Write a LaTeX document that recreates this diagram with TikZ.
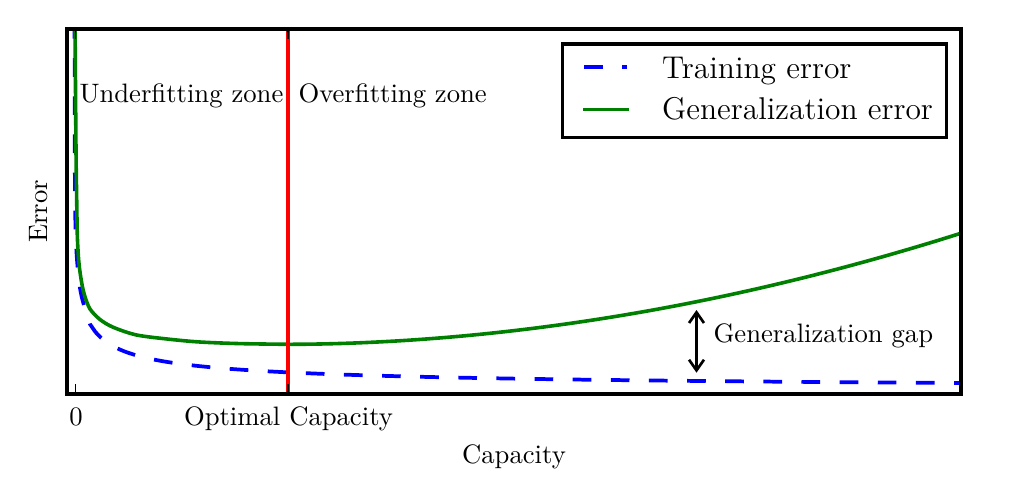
\documentclass[tikz,border=0pt]{standalone}
\usetikzlibrary{arrows.meta}
\definecolor{mplgreen}{rgb}{0,0.5,0}
\definecolor{mplblue}{rgb}{0,0,1}
\definecolor{mplred}{rgb}{1,0,0}
\begin{document}
\begin{tikzpicture}[x=0.375pt,y=-0.375pt,
  frame/.style={line width=1.25pt,black},
  trainline/.style={mplblue,line width=1.4pt,dash pattern=on 7pt off 7.3pt},
  genline/.style={mplgreen,line width=1.35pt},
  optline/.style={mplred,line width=1.25pt},
  tickline/.style={black,line width=0.5pt},
  lbl/.style={inner sep=0pt,font=\fontsize{10}{12}\selectfont},
  leglbl/.style={inner sep=0pt,font=\fontsize{11.8}{14}\selectfont,anchor=base west},
  gaparrow/.style={line width=1pt,{Straight Barb[length=4pt,width=5.6pt]}-{Straight Barb[length=4pt,width=5.6pt]}}
]
\useasboundingbox (0,0) rectangle (1026,483);
\coordinate (ftl) at (67,29);
\coordinate (fbr) at (961,394);
% curves
\begin{scope}
\clip (ftl) rectangle (fbr);
\draw[trainline] plot[smooth,tension=0.5] coordinates {(74.6,20) (74.7,120) (74.9,180) (75.4,222) (76.4,250) (77.7,268) (79.5,285) (82,298) (86,312)}
  -- plot[domain=90:961,samples=160] (\x,{394-0.72-309/sqrt(\x-70)});
\draw[genline] plot[smooth,tension=0.5] coordinates {(75.0,20) (75.6,100) (76.1,160) (76.7,200) (77.3,235) (78.5,258) (80,272) (82.3,286) (85,296.7) (90,309) (100,319.5) (113.3,327.3) (136.7,335) (170,339.3) (200,342) (240,343.6) (288,344.3)}
  -- plot[domain=290:961,samples=120] (\x,{344.3-2.857*((\x-288)/100)^1.92});
\end{scope}
% optimal capacity line
\coordinate (opttop) at (288,29);
\coordinate (optbot) at (288,394);
\draw[optline] (opttop) -- (optbot);
% frame
\draw[frame] (ftl) rectangle (fbr);
% ticks
\coordinate (t0b) at (75.5,394); \coordinate (t0be) at (75.5,384);
\coordinate (t1b) at (288,394); \coordinate (t1be) at (288,384);
\coordinate (t0t) at (75.5,29); \coordinate (t0te) at (75.5,39);
\coordinate (t1t) at (288,29); \coordinate (t1te) at (288,39);
\draw[tickline] (t0b) -- (t0be) (t1b) -- (t1be) (t0t) -- (t0te) (t1t) -- (t1te);
% axis labels
\node[lbl,anchor=base] (zero) at (76,425.5) {0};
\node[lbl,anchor=base] (opt) at (288.5,425.5) {Optimal Capacity};
\node[lbl,anchor=base] (xlab) at (514,463.3) {Capacity};
\node[lbl,rotate=90,anchor=base] (ylab) at (47.3,211.5) {Error};
% zone labels
\node[lbl,anchor=base west] (under) at (79,102) {Underfitting zone};
\node[lbl,anchor=base west] (over) at (298,102) {Overfitting zone};
% generalization gap
\coordinate (gaptop) at (696.5,310);
\coordinate (gapbot) at (696.5,372.7);
\draw[gaparrow] (gaptop) -- (gapbot);
\node[lbl,anchor=base west] (gaplbl) at (713,342.7) {Generalization gap};
% legend
\draw[frame,fill=white] (562.7,44) rectangle (946.7,137.7);
\coordinate (lt1) at (584,66.7); \coordinate (lt2) at (627,66.7);
\coordinate (lg1) at (583,109.3); \coordinate (lg2) at (629,109.3);
\draw[trainline] (lt1) -- (lt2);
\draw[genline] (lg1) -- (lg2);
\node[leglbl] (legt) at (661.7,78.3) {Training error};
\node[leglbl] (legg) at (661.7,119.3) {Generalization error};
\end{tikzpicture}
\end{document}
